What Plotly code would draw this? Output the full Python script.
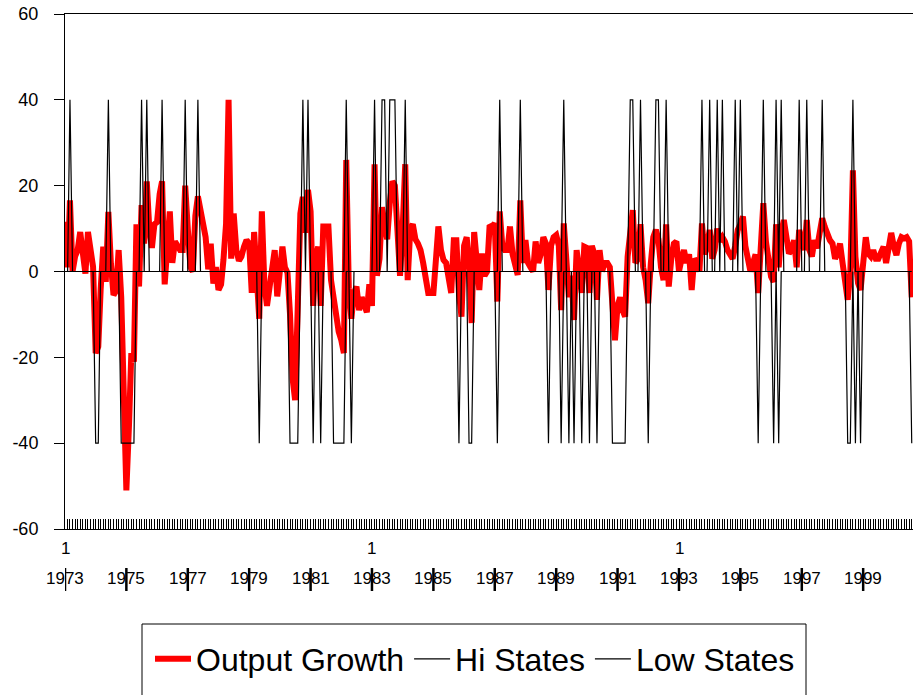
import plotly.graph_objects as go
import pandas as pd

# ---------------- data ----------------
start_month = "1973-01-01"

output_growth = [
    11.6, 1, 16.6, 0, 3.5, 5, 9.2, 5, -0.5, 9.2,
    5.8, 1.1, -19, -17.5, -4.3, 5.8, -2.4, 13.9, 1.9, -5.5,
    -4.5, 5, -6, -30, -51, -36, -19, -21, 11, -3.5,
    15.5, 6.5, 21, 10, 5.5, 11, 11.5, 18, 21, -3,
    5, 14, 2, 7, 6, 5, 5, 20, 10, 1,
    0, 13, 17.5, 14, 11, 8, 0.5, 6.5, -2.8, 1,
    -4.3, -3, 2.7, 11, 40, 3, 13.5, 5, 2.5, 3.5,
    5.8, 7.3, 6.5, -5, 9.2, -3, -11, 14, -3, -8,
    -4.3, 1, 5, -5.8, 0, 5.8, 1, -0.3, -10, -25,
    -30, -12, 13.5, 17.4, 9, 19, 14, -8, 3, 5.8,
    -8, 10.5, 10.5, 10.5, -2, -6.6, -9, -14, -16, -19,
    26, -4, -11, -5, -3.5, -9, -6, -8, -9.5, -3,
    -8, 25, -1, 3, 15, 11, 7.5, 16, 21, 20,
    10, -1, 10, 25, -2, 10, 11, 7.5, 6.5, 5,
    2, -1, -5, -5, -5, 3, 10.5, 5, 2.7, 2,
    -2, -5, 7.3, 7.3, -5, -10.5, 6, 8, 2, -12,
    9.2, 2, -4.3, 4.2, -1, 0, 10.8, 10.4, 11.2, -7,
    14, 6, 5, 5, 10.5, 4, 1, -0.8, 16.6, 2,
    7.3, 2, 1, 0, 7, 2, 4, 8, 6.5, -4.3,
    6, 8, 8.5, 6, -9, 11.2, 3, -6, -1, -11.3,
    5, 0, -5, 5.8, 5.5, -5, 6, 4, -6.6, 5,
    0, 2, 2, 1, -5.8, -16, -8, -6, -9, -10.5,
    3.5, 10, 14.3, 2, 3, 11, 1, -2, -7.4, 2,
    8, 9.7, 7.5, 1, -2, 11, -3.5, 3, 6.5, 7,
    0, 3, 5, 2, 4, -4.3, 3, 2, 0, 11.2,
    4, 6, 9.7, 3, 5, 10, 7, 8, 7, 5,
    4, 3, 6, 9.7, 11, 12.8, 6, 2, 0, 2,
    4, -5, 10, 15.9, 7, 2.7, -1.2, -2.4, 11, 1,
    9, 12, 9, 4.2, 5, 7.3, 1, 9.7, 7.3, 5,
    12, 5, 3.5, 7.3, 5.4, 9.7, 12.4, 10.4, 8.5, 7.3,
    6.5, 3, 4.2, 6.5, 2, -2.7, -6.6, -0.4, 23.6, 3.5,
    -2.7, -4.3, 3.5, 8, 4.2, 3.5, 5, 3, 3, 5,
    5.8, 2, 5.8, 9, 5.8, 3.8, 6.5, 8, 7.7, 8,
    7, -6,
]

# months (index from Jan 1973) in which each regime is active
hi_state_months = [2, 17, 30, 32, 38, 47, 52, 93, 95, 110, 121, 124, 125, 127, 128,
                   129, 133, 170, 178, 195, 221, 222, 225, 231, 232, 235, 249, 252,
                   255, 257, 262, 264, 273, 278, 280, 287, 290, 296, 308]
low_state_months = [12, 13, 22, 23, 24, 25, 26, 27, 76, 88, 89, 90, 91, 97, 100, 105,
                    106, 107, 108, 109, 112, 154, 158, 159, 169, 189, 194, 197, 199,
                    202, 205, 208, 214, 215, 216, 217, 218, 219, 228, 271, 277, 279,
                    306, 307, 309, 311, 331]
hi_level = 40
low_level = -40

year_labels = ["1973", "1975", "1977", "1979", "1981", "1983", "1985",
               "1987", "1989", "1991", "1993", "1995", "1997", "1999"]
decade_labels = ["1973", "1983", "1993"]
y_ticks = [-60, -40, -20, 0, 20, 40, 60]

# ---------------- build series ----------------
dates = pd.date_range(start=start_month, periods=len(output_growth), freq="MS")
hi_set = set(hi_state_months)
low_set = set(low_state_months)
hi_states = [hi_level if i in hi_set else 0 for i in range(len(dates))]
low_states = [low_level if i in low_set else 0 for i in range(len(dates))]

FONT = "Liberation Sans, Arial, Helvetica, sans-serif"

fig = go.Figure()
fig.add_trace(go.Scatter(x=dates, y=output_growth, mode="lines", name="Output Growth",
                         line=dict(color="#ff0000", width=6)))
fig.add_trace(go.Scatter(x=dates, y=hi_states, mode="lines", name="Hi States",
                         line=dict(color="black", width=1.2)))
fig.add_trace(go.Scatter(x=dates, y=low_states, mode="lines", name="Low States",
                         line=dict(color="black", width=1.2)))

# plot area in pixels: left 65, right 913, top 14, bottom 529
PLOT_LEFT, PLOT_RIGHT = 65, 913
PLOT_TOP, PLOT_BOTTOM = 14, 529
H = PLOT_BOTTOM - PLOT_TOP
W = PLOT_RIGHT - PLOT_LEFT


def py(pix):
    return (PLOT_BOTTOM - pix) / H


def px(pix):
    return (pix - PLOT_LEFT) / W


annotations = []
shapes = []
for yl in year_labels:
    xd = f"{yl}-01-01"
    annotations.append(dict(x=xd, xref="x", y=py(578), yref="paper", text=yl,
                            showarrow=False, xanchor="center", yanchor="middle",
                            font=dict(family=FONT, size=17, color="black")))
    shapes.append(dict(type="line", xref="x", yref="paper", x0=xd, x1=xd,
                       y0=py(591), y1=py(568), line=dict(color="black", width=2.5)))
for dl in decade_labels:
    annotations.append(dict(x=f"{dl}-01-01", xref="x", y=py(548), yref="paper", text="1",
                            showarrow=False, xanchor="center", yanchor="middle",
                            font=dict(family=FONT, size=17, color="black")))

# legend frame (extends past the bottom edge as in the reference)
shapes.append(dict(type="rect", xref="paper", yref="paper",
                   x0=px(142), x1=px(806), y0=py(624), y1=py(720),
                   line=dict(color="black", width=1), fillcolor="rgba(0,0,0,0)"))

fig.update_layout(
    width=914, height=695,
    margin=dict(l=65, r=1, t=14, b=166, pad=0),
    paper_bgcolor="white", plot_bgcolor="white",
    font=dict(family=FONT, color="black"),
    showlegend=True,
    legend=dict(orientation="h", x=px(150), xanchor="left",
                y=py(659), yanchor="middle",
                font=dict(family=FONT, size=32, color="black"),
                bgcolor="rgba(0,0,0,0)", borderwidth=0, itemwidth=36),
    annotations=annotations,
    shapes=shapes,
    xaxis=dict(type="date", range=["1973-01-01", "2000-08-16"], automargin=False,
               showgrid=False, zeroline=False, showline=True, linecolor="black",
               linewidth=1, mirror=True,
               ticks="inside", ticklen=10, tickwidth=1, tickcolor="black",
               dtick="M1", tick0="1973-01-01", showticklabels=False),
    yaxis=dict(range=[-60, 60], tickvals=y_ticks, ticktext=[str(v) for v in y_ticks],
               automargin=False, ticklabeloverflow="allow",
               showgrid=False, zeroline=False, showline=True, linecolor="black",
               linewidth=1, ticks="outside", ticklen=10, tickwidth=1,
               tickcolor="black", ticklabelstandoff=12,
               tickfont=dict(family=FONT, size=18, color="black")),
)

# remove the browser's default 8px page margin so the figure fills the window
fig.write_html("out.html",
               config={"displayModeBar": False},
               post_script="document.body.style.margin='0';document.body.style.overflow='hidden';")
